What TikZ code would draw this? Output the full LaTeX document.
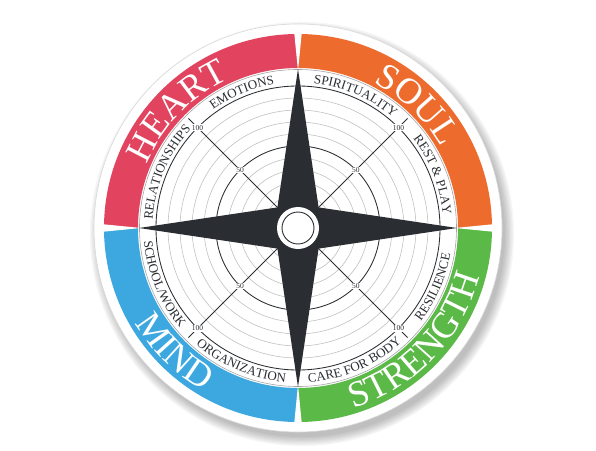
\documentclass[tikz,border=0pt]{standalone}
\usepackage{fontspec}
\setmainfont{Liberation Serif}
\usetikzlibrary{decorations.text}
\definecolor{heartc}{HTML}{E2445F}
\definecolor{soulc}{HTML}{EE6B2E}
\definecolor{mindc}{HTML}{3DA8E0}
\definecolor{strc}{HTML}{5BB947}
\definecolor{starc}{HTML}{2A2D32}
\definecolor{gridc}{HTML}{BDBDBD}
\newcommand\outerfnt{\fontsize{36.5}{36.5}\selectfont\color{white}}
\newcommand\innerfnt{\fontsize{13}{13}\selectfont\color{starc}}
\newcommand\arctextup[5]{%
  \path[decorate,decoration={text along path,text={|#4|#5},text align=center}]
    ({#1+#3}:#2) arc[start angle={#1+#3}, end angle={#1-#3}, radius=#2];}
\newcommand\arctextdown[5]{%
  \path[decorate,decoration={text along path,text={|#4|#5},text align=center}]
    ({#1-#3}:#2) arc[start angle={#1-#3}, end angle={#1+#3}, radius=#2];}
\tikzset{
  numlbl/.style={fill=white,inner sep=0.6pt,font=\fontsize{7.5}{8}\selectfont,text=starc},
  gridline/.style={draw=gridc,line width=0.55},
  mainline/.style={draw=starc,line width=0.85},
}
\begin{document}
\begin{tikzpicture}[x=1pt,y=1pt]
\useasboundingbox (-298,-222) rectangle (298,228);
% shadow
\foreach \i in {0,...,7} \fill[black,opacity=0.035] (4,-6) circle[radius={203+\i*1.3}];
% outer white ring
\fill[white] (0,0) circle[radius=204];
\draw[black!15,line width=0.6] (0,0) circle[radius=204];
% coloured quadrants
\fill[soulc] (0:194) arc[start angle=0,end angle=90,radius=194] -- (90:160) arc[start angle=90,end angle=0,radius=160] -- cycle;
\fill[heartc] (90:194) arc[start angle=90,end angle=180,radius=194] -- (180:160) arc[start angle=180,end angle=90,radius=160] -- cycle;
\fill[mindc] (180:194) arc[start angle=180,end angle=270,radius=194] -- (270:160) arc[start angle=270,end angle=180,radius=160] -- cycle;
\fill[strc] (270:194) arc[start angle=270,end angle=360,radius=194] -- (0:160) arc[start angle=360,end angle=270,radius=160] -- cycle;
\foreach \a in {0,90,180,270}
  \fill[white] ({\a+1.1}:195) -- (\a:157) -- ({\a-1.1}:195) -- cycle;
% inner disc
\fill[white] (0,0) circle[radius=158.5];
\draw[black!35,line width=0.6] (0,0) circle[radius=158.5];
% grid
\foreach \r in {34,46,58,70,94,106,118,130}
  \draw[gridline] (0,0) circle[radius=\r];
\foreach \r in {82,142}
  \draw[mainline] (0,0) circle[radius=\r];
\foreach \a in {45,135,225,315}
  \draw[starc,line width=0.75] (0,0) -- (\a:155);
% star
\fill[starc] (0,159) -- (20.6,20.6) -- (159,0) -- (20.6,-20.6) -- (0,-159)
  -- (-20.6,-20.6) -- (-159,0) -- (-20.6,20.6) -- cycle;
% hub
\fill[white] (0,0) circle[radius=21];
\draw[starc,line width=0.9] (0,0) circle[radius=16];
% numbers
\foreach \a in {45,135,225,315}{
  \node[numlbl] (f\a) at (\a:82) {50};
  \node[numlbl] (h\a) at (\a:142) {100};
}
% outer labels
\arctextup{136}{164}{45}{\outerfnt}{HEART}
\arctextup{46}{164}{45}{\outerfnt}{SOUL}
\arctextdown{225}{188.5}{45}{\outerfnt}{MIND}
\arctextdown{316}{188.5}{45}{\outerfnt}{STRENGTH}
% inner labels
\arctextup{112.5}{145.5}{45}{\innerfnt}{EMOTIONS}
\arctextup{66.5}{145.5}{45}{\innerfnt}{SPIRITUALITY}
\arctextup{21.5}{145.5}{45}{\innerfnt}{REST {\&} PLAY}
\arctextup{157}{145.5}{45}{\innerfnt}{RELATIONSHIPS}
\arctextdown{202.5}{154.5}{45}{\innerfnt}{SCHOOL/WORK}
\arctextdown{247}{154.5}{45}{\innerfnt}{ORGANIZATION}
\arctextdown{293}{154.5}{45}{\innerfnt}{CARE FOR BODY}
\arctextdown{336.5}{154.5}{45}{\innerfnt}{RESILIENCE}
\end{tikzpicture}
\end{document}
